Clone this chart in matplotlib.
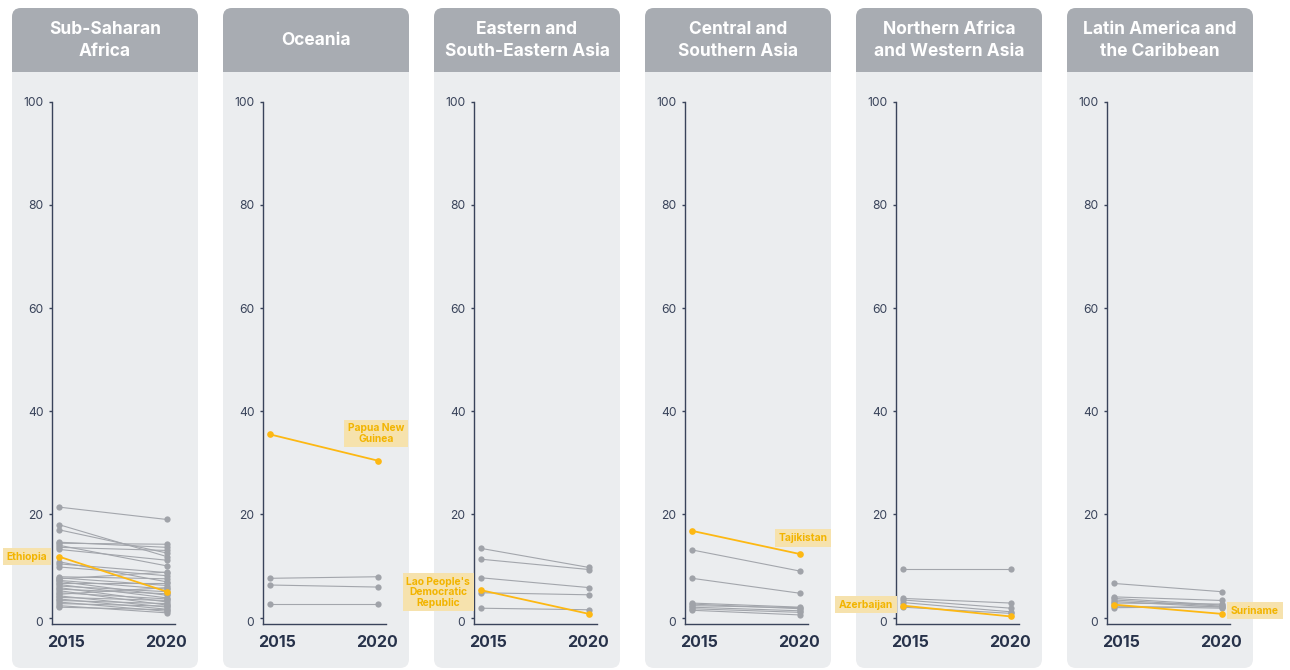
import matplotlib
matplotlib.use("Agg")
import matplotlib.pyplot as plt
from matplotlib.patches import FancyBboxPatch, Rectangle
from matplotlib.transforms import ScaledTranslation

plt.rcParams['font.family'] = ['Inter', 'DejaVu Sans']

# ---------------- data ----------------
regions = ["Sub-Saharan\nAfrica", "Oceania", "Eastern and\nSouth-Eastern Asia",
           "Central and\nSouthern Asia", "Northern Africa\nand Western Asia",
           "Latin America and\nthe Caribbean"]
years = ["2015", "2020"]

ssa_2015 = [21.4, 18.0, 17.0, 14.6, 14.4, 14.0, 13.6, 13.2, 10.4, 9.8, 10.8, 7.9, 7.7, 7.5,
            7.2, 7.0, 6.7, 6.4, 6.1, 5.8, 5.5, 5.2, 4.8, 4.5, 4.2, 3.9, 3.6, 3.3, 3.0, 2.7, 2.3, 2.0]
ssa_2020 = [19.0, 11.8, 12.5, 13.6, 14.2, 10.0, 13.0, 11.1, 8.7, 8.1, 6.9, 7.5, 6.2, 8.8,
            5.5, 4.3, 6.7, 3.8, 5.0, 3.0, 4.6, 2.4, 3.6, 5.8, 2.0, 3.3, 1.6, 2.7, 1.2, 2.2, 0.9, 1.5]

oce_2015 = [7.6, 6.3, 2.6]
oce_2020 = [7.9, 5.9, 2.6]

esea_2015 = [13.4, 11.3, 7.7, 4.8, 1.8]
esea_2020 = [9.7, 9.3, 5.8, 4.4, 1.5]

csa_2015 = [13.1, 7.6, 2.8, 2.6, 2.3, 2.0, 1.7, 1.4]
csa_2020 = [9.0, 4.7, 2.0, 1.7, 1.9, 1.3, 1.0, 0.5]

nawa_2015 = [9.4, 3.7, 3.4, 2.9, 2.0]
nawa_2020 = [9.4, 2.8, 1.8, 1.1, 0.8]

lac_2015 = [6.6, 4.0, 3.7, 3.4, 3.1, 2.8, 2.2, 1.9]
lac_2020 = [5.0, 3.3, 2.4, 2.2, 2.0, 2.6, 1.8, 2.1]

gray_2015 = [ssa_2015, oce_2015, esea_2015, csa_2015, nawa_2015, lac_2015]
gray_2020 = [ssa_2020, oce_2020, esea_2020, csa_2020, nawa_2020, lac_2020]

hl_names = ["Ethiopia", "Papua New\nGuinea", "Lao People's\nDemocratic\nRepublic",
            "Tajikistan", "Azerbaijan", "Suriname"]
hl_2015 = [11.8, 35.5, 5.3, 16.8, 2.3, 2.5]
hl_2020 = [5.0, 30.4, 0.7, 12.3, 0.2, 0.7]
# label anchor: (year index, offset px x, offset px y, ha)
hl_pos = [(0, -12, 0, 'right'), (1, -2, 27, 'center'), (0, -11, -2, 'right'),
          (1, 3, 16, 'center'), (0, -10, 1, 'right'), (1, 9, 3, 'left')]

yticks = [0, 20, 40, 60, 80, 100]

# ---------------- style ----------------
BODY = '#ebedef'
HEAD = '#a8acb2'
AX = '#39435a'
GRAY_DOT = '#a0a3a9'
GRAY_LINE = '#a3a6ac'
YEL = '#fdb813'
YEL_BOX = '#f6e2ad'
YEL_TXT = '#f2b400'

W_PX, H_PX = 1290, 670
fig = plt.figure(figsize=(12.9, 6.7), dpi=100)
bg = fig.add_axes([0, 0, 1, 1])
bg.set_xlim(0, W_PX)
bg.set_ylim(H_PX, 0)
bg.axis('off')

PW = 186
r = 9
for i, name in enumerate(regions):
    L = 12 + 211 * i
    bg.add_patch(FancyBboxPatch((L + r, 8 + r), PW - 2 * r, 660 - 2 * r,
                                boxstyle=f"round,pad={r}", fc=BODY, ec='none'))
    bg.add_patch(FancyBboxPatch((L + r, 8 + r), PW - 2 * r, 63.5 - 2 * r,
                                boxstyle=f"round,pad={r}", fc=HEAD, ec='none'))
    bg.add_patch(Rectangle((L, 40), PW, 31.5, fc=HEAD, ec='none'))
    bg.text(L + PW / 2, 40.5, name, ha='center', va='center', color='white',
            fontsize=12.5, fontweight='bold', linespacing=1.45)

    # data axes
    ax_l, ax_r = L + 39.7, L + 163
    ax_t, ax_b = 101.7, 624
    ax = fig.add_axes([ax_l / W_PX, 1 - ax_b / H_PX, (ax_r - ax_l) / W_PX, (ax_b - ax_t) / H_PX])
    ax.patch.set_alpha(0)
    ax.set_xlim(-7.3 / 108, 1 + 8 / 108)
    ax.set_ylim(-1.26, 100)
    for s in ['top', 'right']:
        ax.spines[s].set_visible(False)
    for s in ['left', 'bottom']:
        ax.spines[s].set_color(AX)
        ax.spines[s].set_linewidth(1.0)
    ax.set_yticks(yticks)
    ax.set_yticklabels([str(t) for t in yticks])
    ax.tick_params(axis='y', length=2.5, width=1, color=AX, labelcolor=AX,
                   labelsize=8.7, pad=3.5)
    ax.set_xticks([])
    zero_lbl = ax.get_yticklabels()[0]
    zero_lbl.set_transform(zero_lbl.get_transform() +
                           ScaledTranslation(0, -3.5 / 100, fig.dpi_scale_trans))

    for a, b in zip(gray_2015[i], gray_2020[i]):
        ax.plot([0, 1], [a, b], color=GRAY_LINE, lw=0.8, zorder=2, solid_capstyle='round')
    ax.plot([0] * len(gray_2015[i]), gray_2015[i], 'o', ms=4.5, color=GRAY_DOT, mec='none', zorder=3)
    ax.plot([1] * len(gray_2020[i]), gray_2020[i], 'o', ms=4.5, color=GRAY_DOT, mec='none', zorder=3)

    ax.plot([0, 1], [hl_2015[i], hl_2020[i]], color=YEL, lw=1.3, zorder=5)
    ax.plot([0, 1], [hl_2015[i], hl_2020[i]], 'o', ms=4.8, color=YEL, mec='none', zorder=6,
            clip_on=False)

    yi, dx, dy, ha = hl_pos[i]
    px = yi
    py = hl_2015[i] if yi == 0 else hl_2020[i]
    ax.annotate(hl_names[i], xy=(px, py), xytext=(dx, dy), textcoords='offset pixels',
                ha=ha, va='center', multialignment='center', color=YEL_TXT,
                fontsize=7.4, fontweight='bold', linespacing=1.05, zorder=7,
                annotation_clip=False,
                bbox=dict(boxstyle='square,pad=0.35', fc=YEL_BOX, ec='none'))

    tr = ax.get_xaxis_transform()
    ax.text(0.065, -0.0345, years[0], transform=tr, ha='center', va='center',
            fontsize=11.5, fontweight='bold', color='#27324a')
    ax.text(0.99, -0.0345, years[1], transform=tr, ha='center', va='center',
            fontsize=11.5, fontweight='bold', color='#27324a')

fig.savefig('out.png', dpi=100, facecolor='white')
